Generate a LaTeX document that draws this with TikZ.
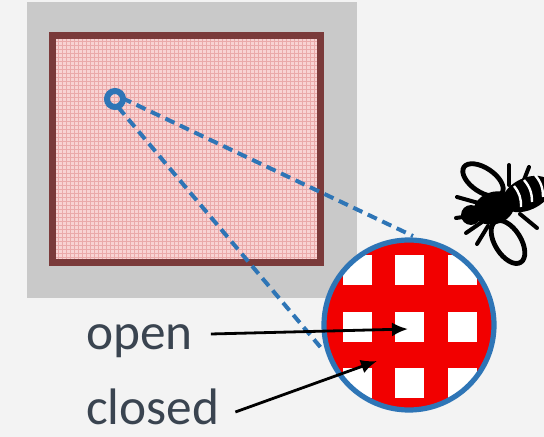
\documentclass[tikz,border=0pt]{standalone}
\usepackage{fontspec}
\setmainfont{Carlito}
\usetikzlibrary{arrows.meta}
\definecolor{bgc}{HTML}{F3F3F3}
\definecolor{panel}{HTML}{C9C9C9}
\definecolor{frame}{HTML}{7A3A3A}
\definecolor{mesh}{HTML}{F8D3D3}
\definecolor{meshline}{HTML}{EAAAAA}
\definecolor{lensblue}{HTML}{2E75B6}
\definecolor{netred}{HTML}{F20000}
\definecolor{txt}{HTML}{3A4450}
\tikzset{
  zoomline/.style={lensblue, line width=2mm, dash pattern=on 5mm off 3mm},
  pointer/.style={black, line width=1.4mm, -{Latex[length=8mm,width=7mm]}},
  lbl/.style={inner sep=0pt, anchor=base west, text=txt, font=\fontsize{73}{80}\selectfont},
  leg/.style={line width=2mm, line cap=round}
}
\begin{document}
\begin{tikzpicture}[x=0.5mm, y=-0.5mm]
\useasboundingbox (0,0) rectangle (544,437);
\fill [bgc] (0,0) rectangle (544,437);

% window with the net
\fill [panel] (27,2) rectangle (357,298);
\fill [mesh] (52,35) rectangle (321,263);
\foreach \x in {54,58,...,320}
  \draw [meshline, line width=0.3mm] (\x,35) -- (\x,263);
\foreach \y in {37,41,...,262}
  \draw [meshline, line width=0.3mm] (52,\y) -- (321,\y);
\draw [frame, line width=3.5mm] (52.5,35.5) rectangle (320.5,262.5);

% spot and its magnified view
\draw [lensblue, line width=3mm] (115,99) circle [radius=8];
\coordinate (spot) at (115,99);
\coordinate (lenstop) at (413,236);
\coordinate (lensleft) at (322,349);
\draw [zoomline] ([shift={(7,-1)}]spot) -- (lenstop);
\draw [zoomline] ([shift={(3,8)}]spot) -- (lensleft);

\begin{scope}
  \clip (409,325) circle [radius=85];
  \fill [netred] (409,325) circle [radius=85];
  \foreach \i in {-2,...,2}
    \foreach \j in {-2,...,2}
      \fill [white] ({409.5+52.5*\i-14.5},{326.5+56.5*\j-15}) rectangle +(29,30);
\end{scope}
\draw [lensblue, line width=2.6mm] (409,325) circle [radius=85];

% bee
\draw [line width=2.4mm, fill=bgc, rotate around={-34:(483,180)}] (483,180) ellipse [x radius=23, y radius=12];
\draw [line width=2.4mm, fill=bgc, rotate around={-58:(508,242)}] (508,242) ellipse [x radius=24, y radius=13];
\draw [leg] (509,185) -- (509,165);
\draw [leg] (522,185) -- (529,167);
\draw [leg] (482,204) -- (457,197);
\draw [leg] (477,215) -- (456,218);
\draw [leg] (482,222) -- (466,233);
\draw [leg] (488,226) -- (477,244);
\draw [leg] (520,214) -- (537,228);
\fill [rotate around={25:(527,194)}] (527,194) ellipse [x radius=26, y radius=16];
\draw [white, line width=1.2mm] (514,186) to[bend left=20] (521,207);
\draw [white, line width=1.2mm] (524,180) to[bend left=20] (532,202);
\draw [white, line width=1.2mm] (535,175) to[bend left=20] (543,197);
\fill [rotate around={20:(494,208)}] (494,208) ellipse [x radius=21, y radius=16];
\fill (471,215) circle [radius=10];

% labels
\node [lbl] (lblopen) at (86,349) {open};
\node [lbl] (lblclosed) at (86,424) {closed};
\coordinate (opentip) at (408,329);
\coordinate (closedtip) at (377,361);
\draw [pointer] ([shift={(9mm,7.5mm)}]lblopen.base east) -- (opentip);
\draw [pointer] ([shift={(8mm,6mm)}]lblclosed.base east) -- (closedtip);
\end{tikzpicture}
\end{document}
